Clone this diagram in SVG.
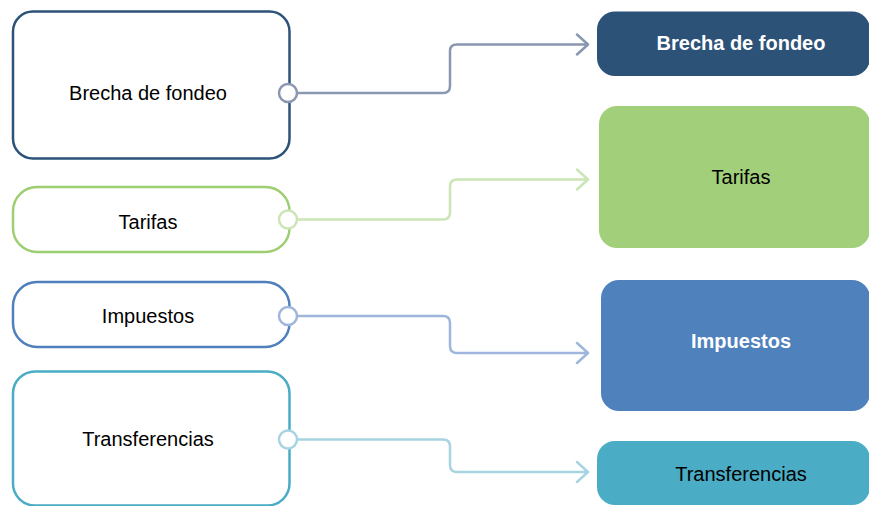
<svg xmlns="http://www.w3.org/2000/svg" width="869" height="506" viewBox="0 0 869 506">
  <style>
    .src { fill: #ffffff; stroke-width: 2.5; }
    .lbl { font-family: "Liberation Sans", Arial, sans-serif; font-size: 20px; text-anchor: middle; fill: #000000; }
    .bold { font-weight: bold; fill: #ffffff; }
    .wire { fill: none; stroke-width: 2.5; stroke-linecap: round; stroke-linejoin: round; }
    .port { fill: #ffffff; stroke-width: 2.5; }
  </style>
  <rect width="869" height="506" fill="#ffffff"/>

  <!-- source boxes -->
  <g id="src-brecha">
    <rect class="src" x="13" y="11.5" width="276.5" height="147" rx="20" stroke="#2d5278"/>
    <text class="lbl" x="148" y="100">Brecha de fondeo</text>
  </g>
  <g id="src-tarifas">
    <rect class="src" x="13" y="187" width="276.5" height="65" rx="24" stroke="#9dce72"/>
    <text class="lbl" x="148" y="229">Tarifas</text>
  </g>
  <g id="src-impuestos">
    <rect class="src" x="13" y="282" width="276.5" height="65" rx="24" stroke="#4f7fbd"/>
    <text class="lbl" x="148" y="323">Impuestos</text>
  </g>
  <g id="src-transferencias">
    <rect class="src" x="13" y="371.5" width="276.5" height="134" rx="22" stroke="#4aacc5"/>
    <text class="lbl" x="148" y="446">Transferencias</text>
  </g>

  <!-- connectors -->
  <g id="connectors">
    <path class="wire" stroke="#8a97b0" d="M296 93 H443 Q450 93 450 86 V51 Q450 44.5 457 44.5 H588 M577 34.5 L588 44.5 L577 54.5"/>
    <path class="wire" stroke="#cce5b5" d="M296 219.5 H443 Q450 219.5 450 212.5 V186.5 Q450 179.5 457 179.5 H588 M577 169.5 L588 179.5 L577 189.5"/>
    <path class="wire" stroke="#9fb6dc" d="M296 316 H443 Q450 316 450 323 V346 Q450 353 457 353 H588 M577 343 L588 353 L577 363"/>
    <path class="wire" stroke="#a7d4e0" d="M296 439.5 H443 Q450 439.5 450 446.5 V465 Q450 472 457 472 H588 M577 462 L588 472 L577 482"/>
    <circle class="port" cx="288" cy="93" r="9" stroke="#8a97b0"/>
    <circle class="port" cx="288" cy="219.5" r="9" stroke="#cce5b5"/>
    <circle class="port" cx="288" cy="316" r="9" stroke="#9fb6dc"/>
    <circle class="port" cx="288" cy="439.5" r="9" stroke="#a7d4e0"/>
  </g>

  <!-- target boxes -->
  <g id="dst-brecha">
    <rect x="597" y="11.5" width="273" height="64.5" rx="18" fill="#2d5278"/>
    <text class="lbl bold" x="741" y="50">Brecha de fondeo</text>
  </g>
  <g id="dst-tarifas">
    <rect x="599" y="106" width="271" height="142" rx="18" fill="#a2cf7a"/>
    <text class="lbl" x="741" y="184">Tarifas</text>
  </g>
  <g id="dst-impuestos">
    <rect x="601" y="280" width="269" height="131" rx="18" fill="#4f81bd"/>
    <text class="lbl bold" x="741" y="347.5">Impuestos</text>
  </g>
  <g id="dst-transferencias">
    <rect x="597" y="441" width="273" height="64" rx="18" fill="#4aacc5"/>
    <text class="lbl" x="741" y="480.5">Transferencias</text>
  </g>
</svg>
